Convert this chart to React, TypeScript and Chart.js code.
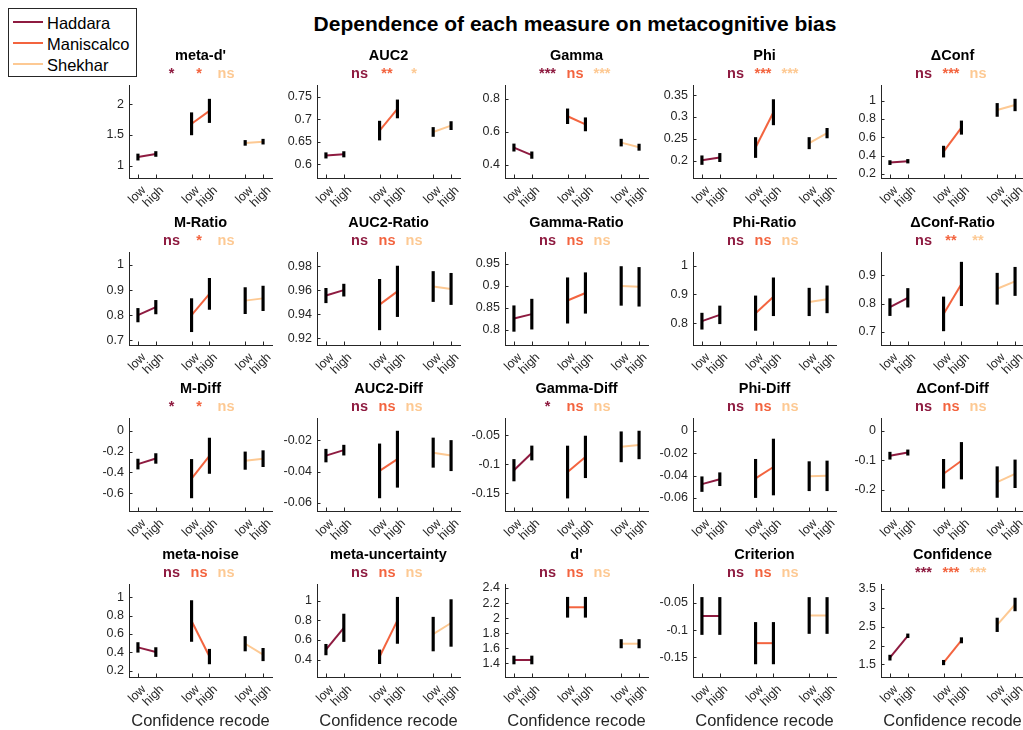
import React, { useEffect, useRef } from 'react';
import { Chart, registerables } from 'chart.js';

Chart.register(...registerables);

const FONT = '"Liberation Sans", Arial, Helvetica, sans-serif';
Chart.defaults.font.family = FONT;

// ---------------- data ----------------
const DATASETS = ['Haddara', 'Maniscalco', 'Shekhar'];
const X_LABELS = ['low', 'high', '', 'low', 'high', '', 'low', 'high'];
const X_TITLE = 'Confidence recode';
const MAIN_TITLE = 'Dependence of each measure on metacognitive bias';

const MEASURES = [
  "meta-d'", 'AUC2', 'Gamma', 'Phi', 'ΔConf',
  'M-Ratio', 'AUC2-Ratio', 'Gamma-Ratio', 'Phi-Ratio', 'ΔConf-Ratio',
  'M-Diff', 'AUC2-Diff', 'Gamma-Diff', 'Phi-Diff', 'ΔConf-Diff',
  'meta-noise', 'meta-uncertainty', "d'", 'Criterion', 'Confidence',
];

// [low, high] means per measure
const HADDARA_MEAN = [
  [1.14, 1.19], [0.62, 0.6225], [0.505, 0.459], [0.201, 0.207], [0.323, 0.338],
  [0.8, 0.832], [0.9555, 0.96], [0.826, 0.836], [0.807, 0.829], [0.788, 0.821],
  [-0.32, -0.266], [-0.0297, -0.0262], [-0.1105, -0.0808], [-0.0477, -0.0433], [-0.0847, -0.074],
  [0.454, 0.403], [0.502, 0.724], [1.444, 1.444], [-0.0742, -0.0742], [1.68, 2.26],
];
const MANISCALCO_MEAN = [
  [1.68, 1.89], [0.675, 0.723], [0.695, 0.646], [0.23, 0.311], [0.443, 0.705],
  [0.8, 0.885], [0.948, 0.959], [0.867, 0.884], [0.835, 0.892], [0.764, 0.87],
  [-0.46, -0.24], [-0.0395, -0.032], [-0.1137, -0.0875], [-0.0426, -0.0324], [-0.146, -0.1017],
  [0.742, 0.354], [0.429, 0.8], [2.144, 2.144], [-0.124, -0.124], [1.55, 2.14],
];
const SHEKHAR_MEAN = [
  [1.37, 1.39], [0.672, 0.686], [0.535, 0.507], [0.24, 0.263], [0.898, 0.952],
  [0.858, 0.867], [0.963, 0.961], [0.9, 0.898], [0.874, 0.883], [0.853, 0.879],
  [-0.287, -0.268], [-0.0278, -0.0297], [-0.0701, -0.0669], [-0.0406, -0.0403], [-0.174, -0.146],
  [0.494, 0.376], [0.66, 0.773], [1.66, 1.66], [-0.0733, -0.0733], [2.55, 3.09],
];

// [low, high] error half-lengths per measure
const HADDARA_ERR = [
  [0.05, 0.04], [0.006, 0.006], [0.022, 0.02], [0.01, 0.0095], [0.022, 0.02],
  [0.027, 0.027], [0.006, 0.005], [0.029, 0.034], [0.028, 0.031], [0.03, 0.033],
  [0.048, 0.047], [0.0041, 0.0032], [0.0186, 0.0122], [0.0066, 0.0058], [0.012, 0.009],
  [0.053, 0.049], [0.054, 0.14], [0.053, 0.053], [0.034, 0.034], [0.067, 0.05],
];
const MANISCALCO_ERR = [
  [0.18, 0.19], [0.021, 0.02], [0.045, 0.04], [0.023, 0.029], [0.06, 0.073],
  [0.066, 0.062], [0.021, 0.021], [0.0515, 0.046], [0.06, 0.066], [0.06, 0.077],
  [0.185, 0.17], [0.0173, 0.018], [0.045, 0.036], [0.0171, 0.025], [0.049, 0.062],
  [0.223, 0.08], [0.07, 0.235], [0.133, 0.133], [0.038, 0.038], [0.06, 0.07],
];
const SHEKHAR_ERR = [
  [0.04, 0.04], [0.01, 0.009], [0.021, 0.019], [0.013, 0.011], [0.071, 0.064],
  [0.052, 0.049], [0.0125, 0.013], [0.044, 0.044], [0.048, 0.047], [0.055, 0.05],
  [0.084, 0.077], [0.0094, 0.0097], [0.026, 0.024], [0.013, 0.0133], [0.052, 0.047],
  [0.079, 0.068], [0.172, 0.238], [0.056, 0.056], [0.033, 0.033], [0.18, 0.17],
];

const SIG_HADDARA = ['*', 'ns', '***', 'ns', 'ns', 'ns', 'ns', 'ns', 'ns', 'ns', '*', 'ns', '*', 'ns', 'ns', 'ns', 'ns', 'ns', 'ns', '***'];
const SIG_MANISCALCO = ['*', '**', 'ns', '***', '***', '*', 'ns', 'ns', 'ns', '**', '*', 'ns', 'ns', 'ns', 'ns', 'ns', 'ns', 'ns', 'ns', '***'];
const SIG_SHEKHAR = ['ns', '*', '***', '***', 'ns', 'ns', 'ns', 'ns', 'ns', '**', 'ns', 'ns', 'ns', 'ns', 'ns', 'ns', 'ns', 'ns', 'ns', '***'];

const Y_MIN = [0.8, 0.57, 0.32, 0.16, 0.155, 0.681, 0.9144, 0.766, 0.724, 0.654, -0.771, -0.0652, -0.181, -0.0717, -0.272, 0.131, 0.223, 1.218, -0.186, 1.167];
const Y_MAX = [2.31, 0.776, 0.885, 0.3735, 1.17, 1.052, 0.9917, 0.977, 1.048, 0.983, 0.123, -0.0056, -0.0203, 0.0114, 0.043, 1.146, 1.17, 2.453, -0.0156, 3.633];
const Y_TICKS = [
  [1, 1.5, 2], [0.6, 0.65, 0.7, 0.75], [0.4, 0.6, 0.8], [0.2, 0.25, 0.3, 0.35], [0.2, 0.4, 0.6, 0.8, 1],
  [0.7, 0.8, 0.9, 1], [0.92, 0.94, 0.96, 0.98], [0.8, 0.85, 0.9, 0.95], [0.8, 0.9, 1], [0.7, 0.8, 0.9],
  [-0.6, -0.4, -0.2, 0], [-0.06, -0.04, -0.02], [-0.15, -0.1, -0.05], [-0.06, -0.04, -0.02, 0], [-0.2, -0.1, 0],
  [0.2, 0.4, 0.6, 0.8, 1], [0.4, 0.6, 0.8, 1], [1.4, 1.6, 1.8, 2, 2.2, 2.4], [-0.15, -0.1, -0.05], [1.5, 2, 2.5, 3, 3.5],
];

// ---------------- styles / layout ----------------
const COLORS = ['#8E1B40', '#F3643F', '#FDC993'];
const AXIS = '#262626';
const COL_LEFT0 = 129;
const COL_STEP = 188;
const ROW_TOPS = [85, 252, 418, 584];
const PLOT_W = 143;
const PLOT_H = 93;
const YW = 55;
const PT = 45;
const PR = 10;
const XH = 54;

function buildConfig(i: number): any {
  const row = Math.floor(i / 5);
  const means = [HADDARA_MEAN[i], MANISCALCO_MEAN[i], SHEKHAR_MEAN[i]];
  const errs = [HADDARA_ERR[i], MANISCALCO_ERR[i], SHEKHAR_ERR[i]];
  const sigs = [SIG_HADDARA[i], SIG_MANISCALCO[i], SIG_SHEKHAR[i]];

  const lineSets = means.map((m, g) => {
    const data: (number | null)[] = X_LABELS.map(() => null);
    data[g * 3] = m[0];
    data[g * 3 + 1] = m[1];
    return {
      type: 'line',
      label: DATASETS[g],
      data,
      borderColor: COLORS[g],
      backgroundColor: COLORS[g],
      borderWidth: 2,
      pointRadius: 0,
      spanGaps: false,
      fill: false,
      tension: 0,
      order: 1,
    };
  });
  const barData: any[] = X_LABELS.map(() => null);
  means.forEach((m, g) => {
    [0, 1].forEach((k) => {
      barData[g * 3 + k] = [m[k] - errs[g][k], m[k] + errs[g][k]];
    });
  });
  const bars = {
    type: 'bar',
    label: 'error',
    data: barData,
    backgroundColor: '#000000',
    borderWidth: 0,
    barThickness: 2.5,
    order: 0,
  };

  const decor = {
    id: 'decor' + i,
    afterDraw(chart: any) {
      const { ctx, chartArea: a, scales } = chart;
      const x = scales.x;
      const y = scales.y;
      ctx.save();
      ctx.strokeStyle = AXIS;
      ctx.lineWidth = 1;
      X_LABELS.forEach((lab, k) => {
        if (!lab) return;
        const px = Math.round(x.getPixelForTick(k)) + 0.5;
        ctx.beginPath();
        ctx.moveTo(px, a.bottom);
        ctx.lineTo(px, a.bottom - 3.5);
        ctx.stroke();
      });
      y.ticks.forEach((t: any) => {
        const py = Math.round(y.getPixelForValue(t.value)) + 0.5;
        ctx.beginPath();
        ctx.moveTo(a.left, py);
        ctx.lineTo(a.left + 3.5, py);
        ctx.stroke();
      });
      const cx = (a.left + a.right) / 2;
      ctx.textAlign = 'center';
      ctx.textBaseline = 'alphabetic';
      ctx.fillStyle = '#000';
      ctx.font = 'bold 14.5px ' + FONT;
      ctx.fillText(MEASURES[i], cx, a.top - 25);
      const offs = [42.5, 70, 97];
      sigs.forEach((s, g) => {
        ctx.fillStyle = COLORS[g];
        ctx.fillText(s, a.left + offs[g], a.top - 7);
      });
      ctx.restore();
    },
  };

  return {
    type: 'line',
    data: { labels: X_LABELS, datasets: [...lineSets, bars] },
    options: {
      animation: false,
      responsive: false,
      events: [],
      layout: { padding: { left: 0, top: PT, right: PR, bottom: 0 } },
      plugins: { legend: { display: false }, tooltip: { enabled: false }, title: { display: false } },
      scales: {
        x: {
          type: 'category',
          labels: X_LABELS,
          offset: true,
          grid: { display: false, drawTicks: false },
          border: { display: true, color: AXIS, width: 1 },
          ticks: {
            autoSkip: false,
            minRotation: 45,
            maxRotation: 45,
            padding: 5,
            labelOffset: 6,
            color: AXIS,
            font: { size: 12.5 },
          },
          title: {
            display: row === 3,
            text: X_TITLE,
            color: AXIS,
            font: { size: 16.5 },
            padding: 0,
          },
          afterFit: (s: any) => {
            s.height = XH;
          },
        },
        y: {
          type: 'linear',
          min: Y_MIN[i],
          max: Y_MAX[i],
          grid: { display: false, drawTicks: false },
          border: { display: true, color: AXIS, width: 1 },
          ticks: {
            autoSkip: false,
            padding: 5,
            color: AXIS,
            font: { size: 12.5 },
            callback: (v: any) => String(v),
          },
          afterBuildTicks: (s: any) => {
            s.ticks = Y_TICKS[i].map((v) => ({ value: v }));
          },
          afterFit: (s: any) => {
            s.width = YW;
          },
        },
      },
    },
    plugins: [decor],
  };
}

function Panel({ i }: { i: number }) {
  const ref = useRef<HTMLCanvasElement>(null);
  useEffect(() => {
    const chart = new Chart(ref.current as HTMLCanvasElement, buildConfig(i));
    return () => chart.destroy();
  }, [i]);
  const row = Math.floor(i / 5);
  const col = i % 5;
  const left = COL_LEFT0 + COL_STEP * col - YW;
  const top = ROW_TOPS[row] - PT;
  const w = YW + PLOT_W + PR;
  const h = PT + PLOT_H + XH;
  return (
    <canvas
      ref={ref}
      width={w}
      height={h}
      style={{ position: 'absolute', left, top, width: w, height: h }}
    />
  );
}

function Legend() {
  const ys = [22, 43, 64];
  return (
    <div
      style={{
        position: 'absolute',
        left: 8,
        top: 8,
        width: 129,
        height: 69,
        boxSizing: 'border-box',
        border: '1px solid ' + AXIS,
        background: '#fff',
        zIndex: 5,
      }}
    >
      {DATASETS.map((d, g) => (
        <React.Fragment key={d}>
          <div
            style={{
              position: 'absolute',
              left: 4,
              top: ys[g] - 9 - 1,
              width: 30,
              height: 2,
              background: COLORS[g],
            }}
          />
          <div
            style={{
              position: 'absolute',
              left: 38,
              top: ys[g] - 9 - 9.5,
              fontFamily: FONT,
              fontSize: 16.5,
              lineHeight: '20px',
              color: '#000',
              whiteSpace: 'nowrap',
            }}
          >
            {d}
          </div>
        </React.Fragment>
      ))}
    </div>
  );
}

export default function App() {
  const idx = MEASURES.map((_, k) => k);
  return (
    <div
      style={{
        position: 'absolute',
        left: 0,
        top: 0,
        width: 1023,
        height: 730,
        overflow: 'hidden',
        background: '#fff',
      }}
    >
      <div
        style={{
          position: 'absolute',
          left: 275,
          top: 12,
          width: 600,
          textAlign: 'center',
          fontFamily: FONT,
          fontWeight: 'bold',
          fontSize: 21,
          lineHeight: '24px',
          color: '#000',
          whiteSpace: 'nowrap',
        }}
      >
        {MAIN_TITLE}
      </div>
      {idx.map((k) => (
        <Panel key={k} i={k} />
      ))}
      <Legend />
    </div>
  );
}
